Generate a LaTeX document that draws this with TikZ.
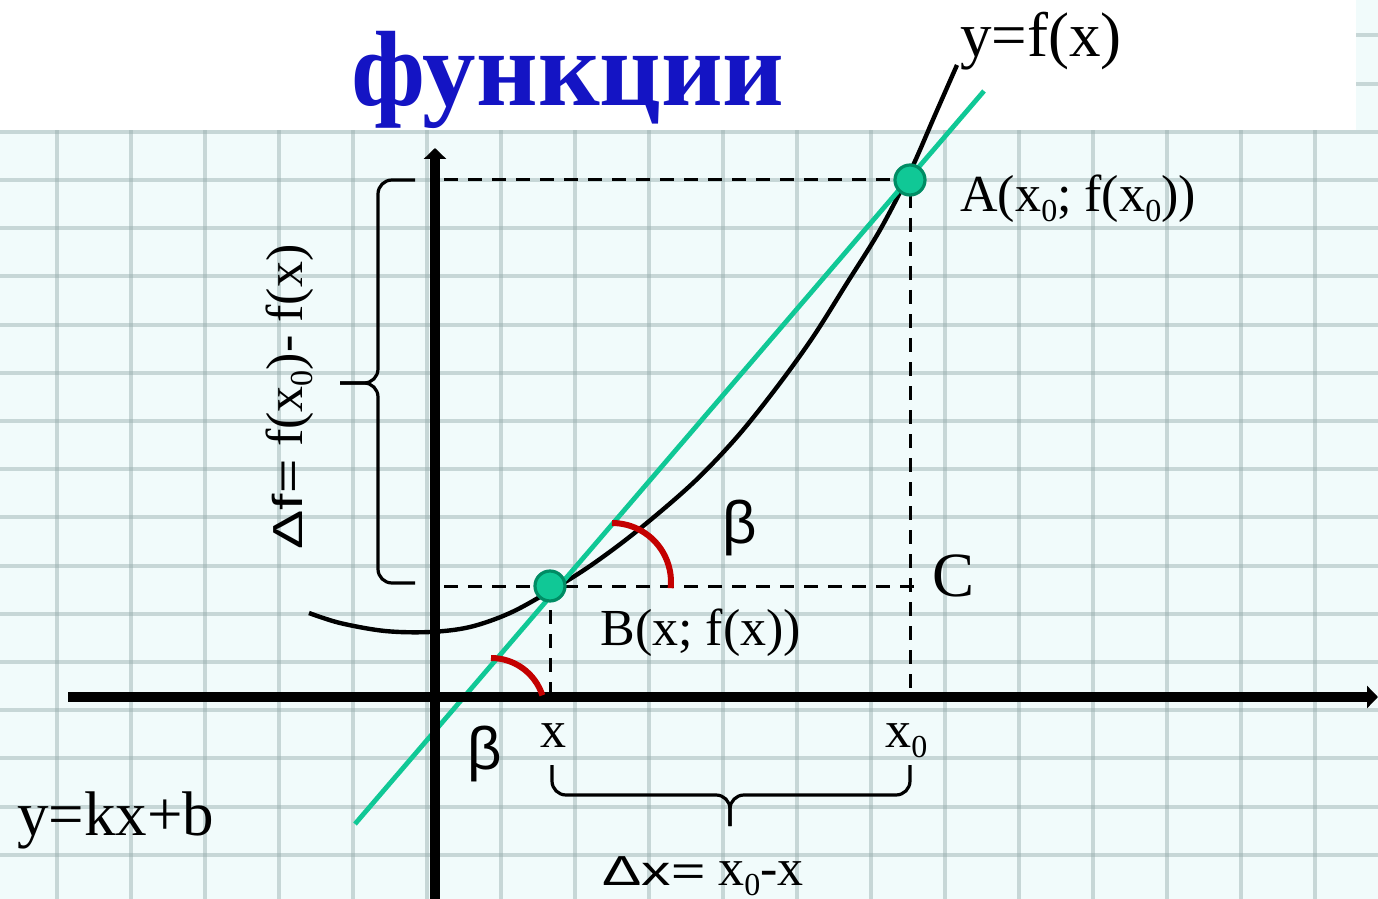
\documentclass[tikz,border=0pt]{standalone}
\usepackage{fontspec}
\setmainfont{Liberation Serif}
\setsansfont{Liberation Sans}
\usepackage{graphicx}
\usepackage{xcolor}
\usepackage{tikz}
\usetikzlibrary{positioning, arrows.meta, calc}

\definecolor{paper}{RGB}{241,251,251}
\definecolor{gridgray}{RGB}{150,172,172}
\definecolor{secgreen}{RGB}{16,200,150}
\definecolor{dotrim}{RGB}{0,140,100}
\definecolor{arcred}{RGB}{196,0,0}
\definecolor{titleblue}{RGB}{20,20,196}

\newcommand{\wsf}[1]{\scalebox{1.4}[1]{\sffamily\fontsize{21}{25}\selectfont #1}}
\newcommand{\low}[1]{\raisebox{-5pt}{\fontsize{16}{18}\selectfont #1}}

\begin{document}
\begin{tikzpicture}[x=0.5pt, y=-0.5pt,
    gridline/.style={draw=gridgray, line width=2pt, opacity=0.45},
    axisline/.style={line width=4.8pt, -{Triangle[length=5.5pt,width=11pt]}},
    curvefx/.style={line width=2.2pt},
    secant/.style={draw=secgreen, line width=2.4pt},
    helper/.style={line width=1.5pt, dash pattern=on 7pt off 5pt},
    bracket/.style={line width=1.6pt, rounded corners=7pt},
    anglearc/.style={draw=arcred, line width=3pt},
    dot/.style={circle, fill=secgreen, draw=dotrim, line width=1.6pt, minimum size=15pt, inner sep=0pt},
    lbl/.style={inner sep=0pt, anchor=base west, font=\fontsize{26}{30}\selectfont},
    biglbl/.style={inner sep=0pt, anchor=base west, font=\fontsize{31.5}{36}\selectfont},
    betalbl/.style={inner sep=0pt, font=\sffamily\fontsize{30}{34}\selectfont}]
  \useasboundingbox (0,0) rectangle (1378,899);
  % squared paper
  \fill[paper] (0,0) rectangle (1378,899);
  \foreach \gx in {0,...,17}
    \draw[gridline] ({57+74*\gx},0) -- ({57+74*\gx},899);
  \foreach \gy in {-3,...,14}
    \draw[gridline] (0,{180+48.2*\gy}) -- (1378,{180+48.2*\gy});
  \fill[white] (0,0) rectangle (1356,130);
  \node[inner sep=0pt, anchor=base west, text=titleblue, font=\fontsize{53.5}{60}\selectfont\bfseries] (title) at (351,106) {функции};

  \coordinate (xstart) at (68,697);
  \coordinate (xend) at (1378,697);
  \coordinate (ybot) at (435,899);
  \coordinate (ytop) at (435,148);
  \coordinate (pA) at (910,180);
  \coordinate (pB) at (550,586);
  \coordinate (yA) at (444,180);
  \coordinate (xA) at (910,697);
  \coordinate (yB) at (444,586);
  \coordinate (xB) at (550,697);
  \coordinate (cEnd) at (920,586);
  \coordinate (s1) at (355,824);
  \coordinate (s2) at (984,91);

  % graph and secant
  \draw[curvefx] plot[smooth, tension=0.55] coordinates {(309,613) (340,623) (385,631) (430,632) (470,627) (510,613) (550,591) (590,566) (637,531) (693,483) (737,437) (777,387) (813,337) (847,283) (880,230) (910,172) (935,115) (957,65)};
  \draw[secant] (s1) -- (s2);

  \draw[helper] (yA) -- (pA) -- (xA);
  \draw[helper] (yB) -- (cEnd);
  \draw[helper] (pB) -- (xB);

  \draw[axisline] (xstart) -- (xend);
  \draw[axisline] (ybot) -- (ytop);

  % braces
  \draw[bracket] (415,180) -- (378,180) -- (378,383) -- (340,383);
  \draw[bracket] (415,583) -- (378,583) -- (378,383) -- (340,383);
  \draw[bracket] (552,765) -- (552,795) -- (730,795) -- (730,826);
  \draw[bracket] (910,765) -- (910,795) -- (730,795) -- (730,826);

  \draw[anglearc] (612,523) arc[start angle=-90, end angle=6, radius=59];
  \draw[anglearc] (491,658) arc[start angle=-90, end angle=-18, radius=54];

  \node[dot] (A) at (pA) {};
  \node[dot] (B) at (pB) {};

  \node[biglbl] (fxlab) at (960,57) {y=f(x)};
  \node[lbl] (Alab) at (960,212) {A(x\low{0}; f(x\low{0}))};
  \node[lbl] (Blab) at (600,645) {B(x; f(x))};
  \node[biglbl] (Clab) at (932,596) {C};
  \node[lbl] (xlab) at (540,747) {x};
  \node[lbl] (x0lab) at (885,747) {x\low{0}};
  \node[biglbl] (kxlab) at (17,835) {y=kx+b};
  \node[lbl] (dxlab) at (602,885) {\wsf{Δx=} x\low{0}-x};
  \node[lbl, rotate=90] (dflab) at (302,550) {\wsf{Δf=} f(x\low{0})- f(x)};
  \node[betalbl] (beta1) at (740,528) {β};
  \node[betalbl] (beta2) at (485,754) {β};
\end{tikzpicture}
\end{document}
